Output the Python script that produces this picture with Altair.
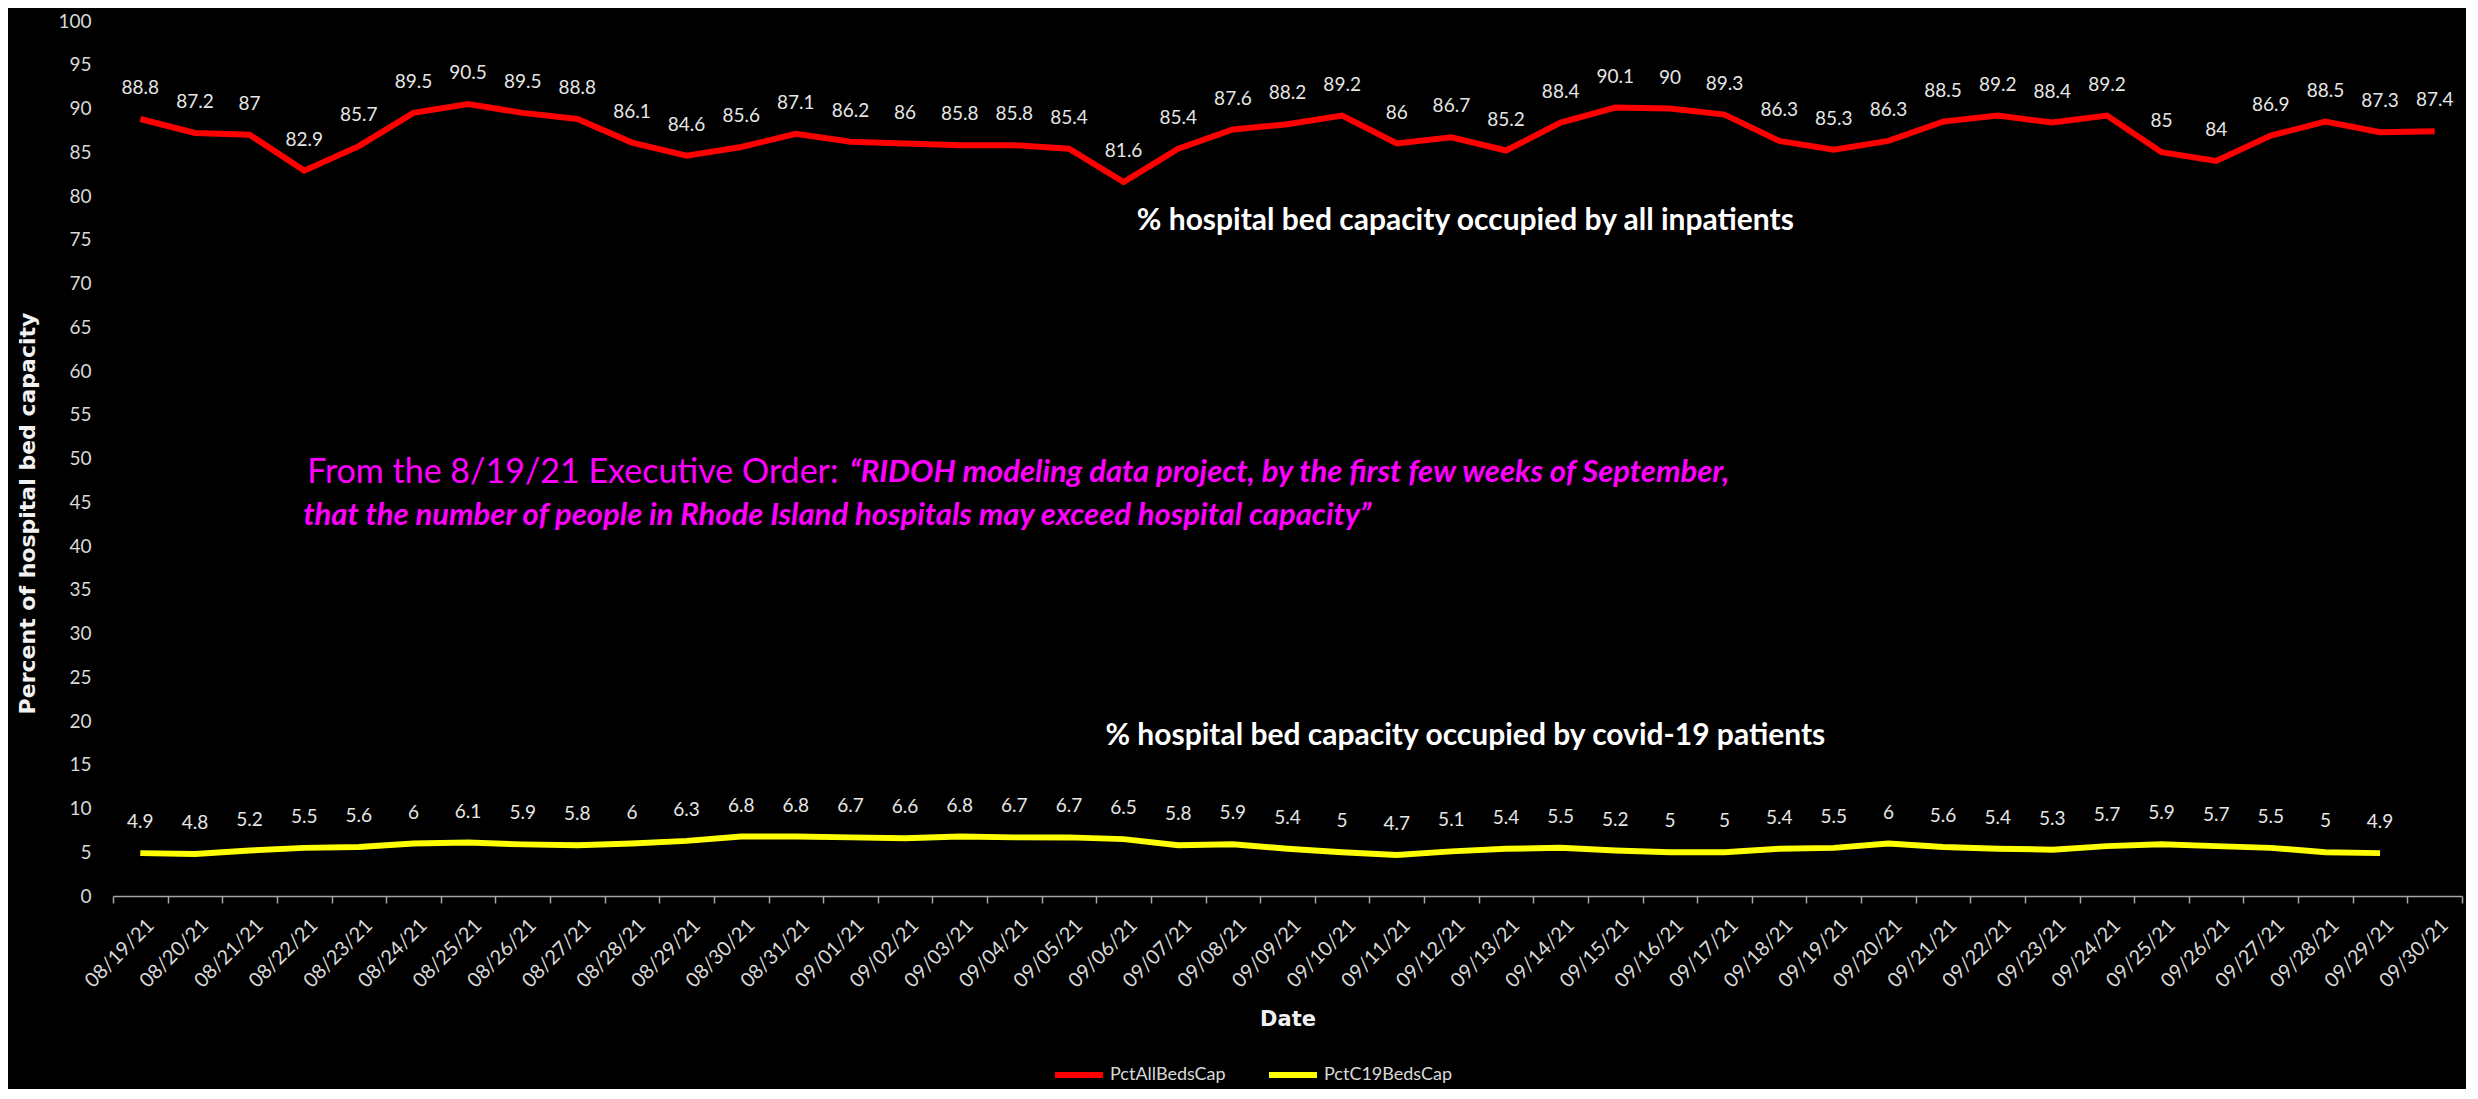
import altair as alt
import pandas as pd

dates = [
    "08/19/21", "08/20/21", "08/21/21", "08/22/21", "08/23/21", "08/24/21", "08/25/21",
    "08/26/21", "08/27/21", "08/28/21", "08/29/21", "08/30/21", "08/31/21", "09/01/21",
    "09/02/21", "09/03/21", "09/04/21", "09/05/21", "09/06/21", "09/07/21", "09/08/21",
    "09/09/21", "09/10/21", "09/11/21", "09/12/21", "09/13/21", "09/14/21", "09/15/21",
    "09/16/21", "09/17/21", "09/18/21", "09/19/21", "09/20/21", "09/21/21", "09/22/21",
    "09/23/21", "09/24/21", "09/25/21", "09/26/21", "09/27/21", "09/28/21", "09/29/21",
    "09/30/21",
]
pct_all_beds = [
    88.8, 87.2, 87, 82.9, 85.7, 89.5, 90.5, 89.5, 88.8, 86.1, 84.6, 85.6, 87.1, 86.2,
    86, 85.8, 85.8, 85.4, 81.6, 85.4, 87.6, 88.2, 89.2, 86, 86.7, 85.2, 88.4, 90.1,
    90, 89.3, 86.3, 85.3, 86.3, 88.5, 89.2, 88.4, 89.2, 85, 84, 86.9, 88.5, 87.3, 87.4,
]
pct_c19_beds = [
    4.9, 4.8, 5.2, 5.5, 5.6, 6, 6.1, 5.9, 5.8, 6, 6.3, 6.8, 6.8, 6.7,
    6.6, 6.8, 6.7, 6.7, 6.5, 5.8, 5.9, 5.4, 5, 4.7, 5.1, 5.4, 5.5, 5.2,
    5, 5, 5.4, 5.5, 6, 5.6, 5.4, 5.3, 5.7, 5.9, 5.7, 5.5, 5, 4.9,
]
series_names = ["PctAllBedsCap", "PctC19BedsCap"]
series_colors = ["#FF0000", "#FFFF00"]

rows = []
for d, v in zip(dates, pct_all_beds):
    rows.append({"date": d, "value": v, "series": series_names[0], "label": f"{v:g}"})
for d, v in zip(dates, pct_c19_beds):
    rows.append({"date": d, "value": v, "series": series_names[1], "label": f"{v:g}"})
df = pd.DataFrame(rows)

# annotation texts (anchored in data coordinates)
white_notes = pd.DataFrame({
    "date": ["09/12/21", "09/12/21"],
    "value": [77.2, 18.3],
    "text": ["% hospital bed capacity occupied by all inpatients",
             "% hospital bed capacity occupied by covid-19 patients"],
})
quote_plain = pd.DataFrame({
    "date": ["09/01/21"], "value": [48.3],
    "text": ["From the 8/19/21 Executive Order:"],
})
quote_bold = pd.DataFrame({
    "date": ["09/01/21", "08/22/21"],
    "value": [48.3, 43.4],
    "text": ["\u201cRIDOH modeling data project, by the first few weeks of September,",
             "that the number of people in Rhode Island hospitals may exceed hospital capacity\u201d"],
})

FONT = "Lato"
TITLE_FONT = "DejaVu Sans"

x_enc = alt.X(
    "date:N", sort=dates, bandPosition=0.5,
    scale=alt.Scale(type="band", domain=dates, paddingInner=0, paddingOuter=0),
    axis=alt.Axis(
        title="Date", titleFont=TITLE_FONT, titleFontSize=21, titleFontWeight="bold",
        titleColor="#F2F2F2", titleY=123, titleBaseline="middle",
        labelAngle=-45, labelFont=FONT, labelFontSize=20, labelColor="#D9D9D9",
        labelPadding=12, labelOverlap=False, labelOffset=3,
        domainColor="#A6A6A6", domainWidth=1.5, tickColor="#A6A6A6", tickWidth=1.5,
        tickSize=7, tickBand="extent", grid=False,
    ),
)
y_enc = alt.Y(
    "value:Q",
    scale=alt.Scale(domain=[0, 100], nice=False, zero=True),
    axis=alt.Axis(
        title="Percent of hospital bed capacity", titleFont=TITLE_FONT, titleFontSize=22,
        titleFontWeight="bold", titleColor="#F2F2F2", titleX=-86, titleY=492,
        titleAlign="center", titleBaseline="middle", titleAngle=-90,
        values=list(range(0, 101, 5)), labelFont=FONT, labelFontSize=19,
        labelColor="#D9D9D9", labelPadding=22, domain=False, ticks=False, grid=False,
    ),
)

color_enc = alt.Color(
    "series:N",
    scale=alt.Scale(domain=series_names, range=series_colors),
    legend=alt.Legend(
        title=None, orient="none", legendX=939, legendY=1027, direction="horizontal",
        symbolType="stroke", symbolStrokeWidth=6, symbolSize=2304,
        labelFont=FONT, labelFontSize=18, labelColor="#D9D9D9", labelOffset=4,
        columnPadding=31, padding=0,
    ),
)

lines = alt.Chart(df).mark_line(strokeWidth=6).encode(x=x_enc, y=y_enc, color=color_enc)

labels = alt.Chart(df).mark_text(
    dy=-31, font=FONT, fontSize=19, color="#E6E6E6", baseline="middle", align="center"
).encode(x=alt.X("date:N", sort=dates, bandPosition=0.5), y="value:Q", text="label:N")

notes = alt.Chart(white_notes).mark_text(
    dx=14, font=FONT, fontSize=30, fontWeight="bold", color="#FFFFFF",
    align="center", baseline="middle"
).encode(x=alt.X("date:N", sort=dates, bandPosition=0.5), y="value:Q", text="text:N")

q_plain = alt.Chart(quote_plain).mark_text(
    dx=-12, font=FONT, fontSize=34, color="#FF00FF", align="right", baseline="middle"
).encode(x=alt.X("date:N", sort=dates, bandPosition=0.5), y="value:Q", text="text:N")

q_bold = alt.Chart(quote_bold).mark_text(
    dx=-1, font=FONT, fontSize=31, fontWeight="bold", fontStyle="italic", color="#FF00FF",
    align="left", baseline="middle"
).encode(x=alt.X("date:N", sort=dates, bandPosition=0.5), y="value:Q", text="text:N")

chart = alt.layer(lines, labels, notes, q_plain, q_bold).properties(
    width=2349, height=875,
    autosize=alt.AutoSizeParams(type="none"),
    padding={"left": 105, "top": 13, "right": 4, "bottom": 193},
    background="#000000",
).configure_view(strokeWidth=0)

chart.save("out.html", embed_options={"renderer": "svg", "actions": False})
